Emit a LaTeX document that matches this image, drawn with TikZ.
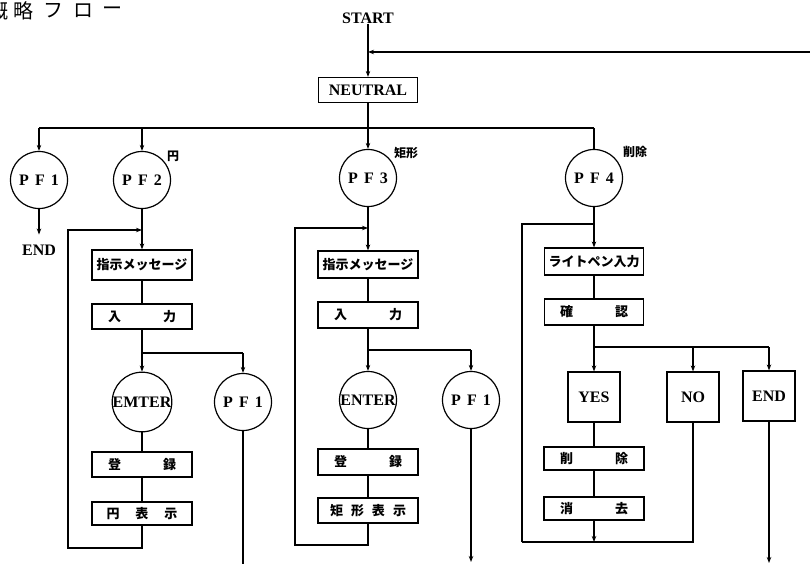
\documentclass[tikz,border=0pt]{standalone}
\usepackage{fontspec}
\setmainfont{Liberation Serif}
\newfontfamily\jp{Noto Sans CJK JP}
\usetikzlibrary{arrows.meta}
\tikzset{
  ln/.style={line width=1.2pt},
  arr/.style={ln, -{Stealth[length=6pt,width=4.5pt]}},
  box/.style={draw, line width=1.2pt, minimum width=100pt, minimum height=25pt, inner sep=0pt, font=\jp\bfseries\fontsize{13}{13}\selectfont},
  ebox/.style={draw, line width=1.2pt, minimum width=52pt, minimum height=50pt, inner sep=0pt, font=\bfseries\fontsize{16}{16}\selectfont},
  circ/.style={draw, circle, line width=1.2pt, minimum size=57pt, inner sep=0pt, font=\bfseries\fontsize{16}{16}\selectfont},
  lab/.style={inner sep=0pt, font=\jp\bfseries\fontsize{12}{12}\selectfont},
  tb/.style={inner sep=0pt, font=\bfseries\fontsize{16}{16}\selectfont},
  ttl/.style={inner sep=0pt, font=\jp\fontsize{20}{20}\selectfont}
}
\newcommand{\pfx}[1]{P\hspace{6pt}F\hspace{6pt}#1}
\begin{document}
\begin{tikzpicture}[x=1pt,y=-1pt]
\useasboundingbox (0,0) rectangle (810,564);
% title
\node[ttl] (t1) at (-2,11) {概};
\node[ttl] (t2) at (23,11) {略};
\node[ttl] (t3) at (53,11) {フ};
\node[ttl] (t4) at (83,11) {ロ};
\node[ttl] (t5) at (112,11) {ー};
% top
\node[tb] (start) at (368,18) {START};
\node[box, minimum width=99pt, font=\bfseries\fontsize{16}{16}\selectfont] (neutral) at (368,90) {NEUTRAL};
\coordinate (fbR) at (810,52);
\coordinate (fbJ) at (368,52);
\draw[arr] (start.south) -- (neutral.north);
\draw[arr] (fbR) -- (fbJ);
% first level
\node[circ] (pf1) at (39,180) {\pfx{1}};
\node[circ] (pf2) at (142,180) {\pfx{2}};
\node[circ] (pf3) at (368,178) {\pfx{3}};
\node[circ] (pf4) at (594,178) {\pfx{4}};
\node[lab] (l2) at (173,156) {円};
\node[lab] (l3) at (406,153) {矩形};
\node[lab] (l4) at (635,152) {削除};
\coordinate (busL) at (39,128);
\coordinate (busR) at (594,128);
\draw[ln] (busL) -- (busR);
\draw[arr] (neutral.south) -- (pf3.north);
\draw[arr] (busL) -- (pf1.north);
\draw[arr] (pf2 |- busL) -- (pf2.north);
\draw[ln] (busR) -- (pf4.north);
\node[tb] (end1) at (39,250) {END};
\draw[arr, shorten >=10pt] (pf1.south) -- (end1.north);
% column 1
\node[box, minimum height=30pt] (msg1) at (142,265) {指示メッセージ};
\node[box] (in1) at (142,316.5) {入\hspace{42pt}力};
\coordinate (br1) at (142,353);
\coordinate (br1r) at (243,353);
\node[circ] (emter) at (142,402) {EMTER};
\node[circ] (pf1b) at (243,402) {\pfx{1}};
\node[box] (reg1) at (142,464.5) {登\hspace{42pt}録};
\node[box, minimum height=23pt] (disp1) at (142,513.5) {円\hspace{16pt}表\hspace{16pt}示};
\coordinate (lp1a) at (142,548);
\coordinate (lp1c) at (68,230);
\coordinate (lp1d) at (142,230);
\coordinate (pf1bEnd) at (243,564);
\draw[arr] (pf2.south) -- (msg1.north);
\draw[ln] (msg1) -- (in1);
\draw[ln] (in1.south) -- (br1) -- (br1r);
\draw[arr] (br1) -- (emter.north);
\draw[arr] (br1r) -- (pf1b.north);
\draw[ln] (emter) -- (reg1);
\draw[ln] (reg1) -- (disp1);
\draw[arr] (disp1.south) -- (lp1a) -| (lp1c) -- (lp1d);
\draw[ln] (pf1b.south) -- (pf1bEnd);
% column 2
\node[box, minimum height=27pt] (msg2) at (368,264.5) {指示メッセージ};
\node[box, minimum height=26pt] (in2) at (368,315) {入\hspace{42pt}力};
\coordinate (br2) at (368,350);
\coordinate (br2r) at (471,350);
\node[circ] (enter) at (368,400) {ENTER};
\node[circ] (pf1c) at (471,400) {\pfx{1}};
\node[box, minimum height=26pt] (reg2) at (368,462) {登\hspace{42pt}録};
\node[box] (disp2) at (368,510.5) {矩\hspace{8pt}形\hspace{8pt}表\hspace{8pt}示};
\coordinate (lp2a) at (368,545);
\coordinate (lp2c) at (295,228);
\coordinate (lp2d) at (368,228);
\coordinate (pf1cEnd) at (471,562);
\draw[arr] (pf3.south) -- (msg2.north);
\draw[ln] (msg2) -- (in2);
\draw[ln] (in2.south) -- (br2) -- (br2r);
\draw[arr] (br2) -- (enter.north);
\draw[arr] (br2r) -- (pf1c.north);
\draw[ln] (enter) -- (reg2);
\draw[ln] (reg2) -- (disp2);
\draw[arr] (disp2.south) -- (lp2a) -| (lp2c) -- (lp2d);
\draw[arr] (pf1c.south) -- (pf1cEnd);
% column 3
\node[box, minimum width=99pt, minimum height=27pt] (pen3) at (594,261.5) {ライトペン入力};
\node[box, minimum width=99pt, minimum height=26pt] (conf3) at (594,312) {確\hspace{42pt}認};
\coordinate (br3) at (594,347);
\coordinate (br3r) at (769,347);
\node[ebox] (yes) at (594,397) {YES};
\node[ebox] (no) at (693,397) {NO};
\node[ebox] (end3) at (769,396) {END};
\node[box, minimum height=23pt] (del3) at (594,458.5) {削\hspace{42pt}除};
\node[box, minimum height=23pt] (era3) at (594,508.5) {消\hspace{42pt}去};
\coordinate (mg3) at (594,542);
\coordinate (lp3b) at (522,542);
\coordinate (lp3c) at (522,224);
\coordinate (lp3d) at (594,224);
\coordinate (end3End) at (769,563);
\draw[arr] (pf4.south) -- (pen3.north);
\draw[ln] (lp3b) -- (lp3c) -- (lp3d);
\draw[ln] (pen3) -- (conf3);
\draw[ln] (conf3.south) -- (br3) -- (br3r);
\draw[arr] (br3) -- (yes.north);
\draw[arr] (no |- br3) -- (no.north);
\draw[arr] (br3r) -- (end3.north);
\draw[ln] (yes) -- (del3);
\draw[ln] (del3) -- (era3);
\draw[arr] (era3.south) -- (mg3);
\draw[ln] (no.south) -- (no |- lp3b) -- (lp3b);
\draw[arr] (end3.south) -- (end3End);
\end{tikzpicture}
\end{document}
